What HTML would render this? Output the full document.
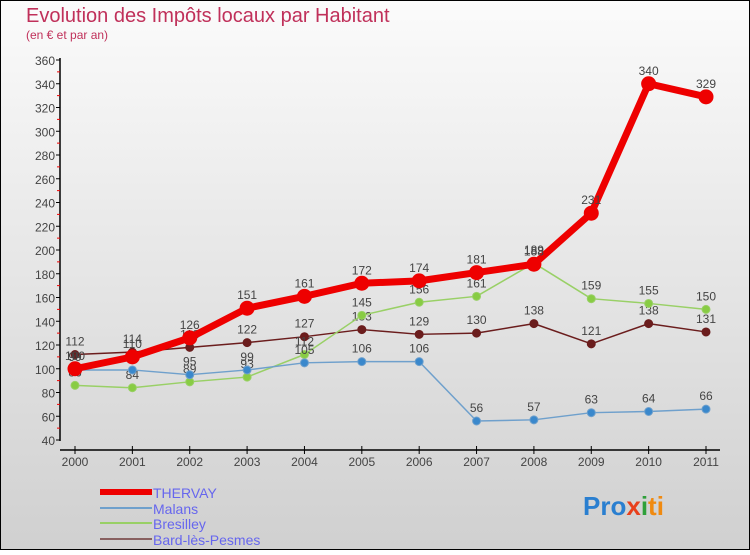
<!DOCTYPE html>
<html><head><meta charset="utf-8"><style>
body{margin:0;width:750px;height:550px;overflow:hidden;font-family:"Liberation Sans",sans-serif}
</style></head><body>
<svg id="chart" width="750" height="550" xmlns="http://www.w3.org/2000/svg">
<defs><linearGradient id="bg" x1="0" y1="0" x2="0" y2="1"><stop offset="0" stop-color="#fbfbfb"/><stop offset="1" stop-color="#d0d0d0"/></linearGradient></defs>
<rect x="0.5" y="0.5" width="749" height="549" fill="url(#bg)" stroke="#000"/>
<text x="26" y="22" font-size="20" fill="#c0305a">Evolution des Impôts locaux par Habitant</text>
<text x="26" y="39" font-size="12" fill="#c0305a">(en € et par an)</text>
<g id="axes"></g><g id="series"></g>
<g font-size="14" fill="#6666ee">
<line x1="100" y1="492" x2="152" y2="492" stroke="#ee0000" stroke-width="6"/><text x="153" y="498" fill="#6666ee">THERVAY</text>
<line x1="100" y1="508" x2="152" y2="508" stroke="#6fa0cc" stroke-width="2"/><text x="153" y="514" fill="#6666ee">Malans</text>
<line x1="100" y1="523" x2="152" y2="523" stroke="#99d066" stroke-width="2"/><text x="153" y="529" fill="#6666ee">Bresilley</text>
<line x1="100" y1="539" x2="152" y2="539" stroke="#886060" stroke-width="2"/><text x="153" y="545" fill="#6666ee">Bard-lès-Pesmes</text>
</g>
<text x="583" y="515" font-size="26" font-weight="bold"><tspan fill="#2a7fd0">Pro</tspan><tspan fill="#e8401c">x</tspan><tspan fill="#2fa03a">i</tspan><tspan fill="#f08a10">ti</tspan></text>
</svg>
<script>
const years=[2000,2001,2002,2003,2004,2005,2006,2007,2008,2009,2010,2011];
const thervay=[100,110,126,151,161,172,174,181,188,231,340,329];
const malans=[99,99,95,99,105,106,106,56,57,63,64,66];
const bresilley=[86,84,89,93,112,145,156,161,189,159,155,150];
const bard=[112,114,118,122,127,133,129,130,138,121,138,131];
const yTicks=[40,60,80,100,120,140,160,180,200,220,240,260,280,300,320,340,360];
const NS="http://www.w3.org/2000/svg";
const X=i=>75+i*(706-75)/(years.length-1);
const Y=v=>440-(v-40)*380/320;
function mk(t,a,p){const e=document.createElementNS(NS,t);for(const k in a)e.setAttribute(k,a[k]);p.appendChild(e);return e;}
const ax=document.getElementById('axes');
mk('line',{x1:60,y1:58,x2:60,y2:441,stroke:'#000','stroke-width':1.5},ax);
mk('line',{x1:60,y1:450,x2:720,y2:450,stroke:'#000','stroke-width':1.5},ax);
yTicks.forEach(v=>{mk('line',{x1:56,y1:Y(v),x2:60,y2:Y(v),stroke:'#000'},ax);
 if(v<360)mk('line',{x1:57,y1:Y(v+10),x2:60,y2:Y(v+10),stroke:'#e00'},ax);
 const t=mk('text',{x:55,y:Y(v)+5,'font-size':12,'text-anchor':'end',fill:'#444'},ax);t.textContent=v;
 
 });
years.forEach((y,i)=>{mk('line',{x1:X(i),y1:446,x2:X(i),y2:454,stroke:'#000'},ax);
 const t=mk('text',{x:X(i),y:466,'font-size':12,'text-anchor':'middle',fill:'#444'},ax);t.textContent=y;
 
 });
const sg=document.getElementById('series');
function draw(name,data,color,w,r,dot){
 const g=mk('g',{},sg);
 
 
 mk('polyline',{points:data.map((v,i)=>X(i)+','+Y(v)).join(' '),fill:'none',stroke:color,'stroke-width':w,'stroke-linejoin':'round'},g);
 data.forEach((v,i)=>{const c=mk('circle',{cx:X(i),cy:Y(v),r:r,fill:dot,stroke:color,'stroke-width':1},g);
  
  
  const t=mk('text',{x:X(i),y:Y(v)-9,'font-size':12,'text-anchor':'middle',fill:'#444'},g);t.textContent=v;
  
  });
}
draw('bard',bard,'#6b1d1d',1.5,4,'#6b1d1d');
draw('bresilley',bresilley,'#99d066',1.5,4,'#88cc44');
draw('malans',malans,'#6fa0cc',1.5,4,'#3a88cc');
draw('thervay',thervay,'#ee0000',7,7,'#ee0000');
</script>
</body></html>
